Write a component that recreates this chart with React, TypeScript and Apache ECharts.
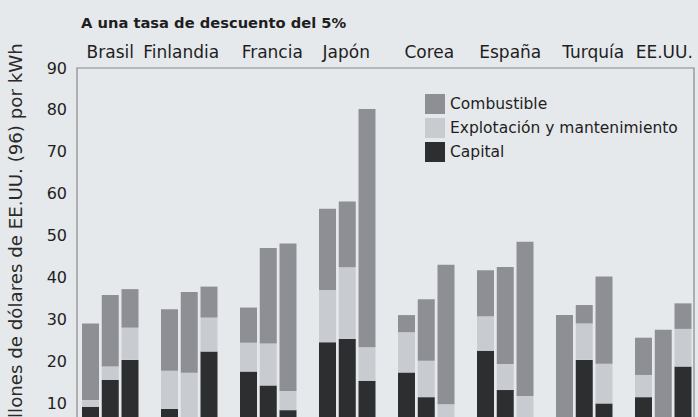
import React, { useEffect, useRef } from "react";
import * as echarts from "echarts";

const title = "A una tasa de descuento del 5%";
const yAxisName = "Millones de dólares de EE.UU. (96) por kWh";
const countries = ["Brasil", "Finlandia", "Francia", "Japón", "Corea", "España", "Turquía", "EE.UU."];
const seriesNames = ["Combustible", "Explotación y mantenimiento", "Capital"];

// three bars per country, values per cost component
const capital = [
  [9.1, 15.5, 20.3],
  [8.6, 5, 22.3],
  [17.5, 14.2, 8.3],
  [24.5, 25.3, 15.3],
  [17.3, 11.4, 5],
  [22.5, 13.1, 5],
  [4, 20.3, 9.9],
  [11.4, 4, 18.7],
];
const operation = [
  [1.6, 3.2, 7.7],
  [9.1, 12.2, 8.1],
  [6.9, 10.0, 4.6],
  [12.5, 17.1, 8.0],
  [9.6, 8.7, 4.7],
  [8.2, 6.2, 6.7],
  [2, 8.7, 9.5],
  [5.3, 2, 9.0],
];
const fuel = [
  [18.3, 17.1, 9.2],
  [14.7, 19.3, 7.4],
  [8.4, 22.8, 35.2],
  [19.4, 15.7, 56.9],
  [4.1, 14.7, 33.3],
  [11.0, 23.2, 36.8],
  [25.0, 4.4, 20.8],
  [8.9, 21.5, 6.1],
];

const FONT = "DejaVu Sans";
const TEXT = "#1e1e1e";
const COLORS = { fuel: "#8e8f94", om: "#c8cbd0", cap: "#2d2e30" };
// horizontal nudge (px) of each country label, as in the original layout
const LABEL_NUDGE = [0, -8, 4, -1, 3, 5, 9, 1];

function toSlots(values: number[][]): (number | null)[] {
  const out: (number | null)[] = [];
  values.forEach((grp, g) => {
    grp.forEach((v) => out.push(v));
    if (g < values.length - 1) out.push(null);
  });
  return out;
}

const slotCategories: string[] = [];
countries.forEach((c, g) => {
  [1, 2, 3].forEach((b) => slotCategories.push(c + " " + b));
  if (g < countries.length - 1) slotCategories.push("gap " + g);
});

const rich: Record<string, any> = {};
LABEL_NUDGE.forEach((n, i) => {
  rich["c" + i] = {
    fontFamily: FONT,
    fontSize: 17,
    color: TEXT,
    padding: n < 0 ? [0, -2 * n, 0, 0] : [0, 0, 0, 2 * n],
  };
});

export default function App() {
  const ref = useRef<HTMLDivElement>(null);
  useEffect(() => {
    if (!ref.current) return;
    const chart = echarts.init(ref.current, undefined, { renderer: "svg" });
    const gridTop = 68;
    const zeroY = 444.9;
    const H = 460;
    const gridBottom = H - zeroY;
    chart.setOption({
      animation: false,
      backgroundColor: "#e6e9ec",
      title: {
        text: title,
        left: 76,
        top: 10,
        textStyle: { fontFamily: FONT, fontSize: 14.7, fontWeight: "bold", color: TEXT },
      },
      legend: {
        data: seriesNames,
        orient: "vertical",
        left: 425,
        top: 94,
        padding: 0,
        itemWidth: 20,
        itemHeight: 20,
        itemGap: 4,
        icon: "rect",
        textStyle: { fontFamily: FONT, fontSize: 15.5, color: TEXT },
      },
      graphic: [
        {
          type: "text",
          x: 15,
          y: 241,
          rotation: Math.PI / 2,
          style: {
            text: yAxisName,
            font: "18.2px " + FONT,
            fill: "#2a2a2a",
            textAlign: "center",
            textVerticalAlign: "middle",
          },
        },
      ],
      grid: [
        {
          left: 77,
          right: 4,
          top: gridTop,
          bottom: gridBottom,
          show: true,
          borderColor: "#86888c",
          borderWidth: 1.2,
          backgroundColor: "transparent",
        },
        {
          left: 80.625,
          width: 31 * 19.75,
          top: gridTop,
          bottom: gridBottom,
        },
      ],
      xAxis: [
        { type: "value", gridIndex: 0, show: false, min: 0, max: 1 },
        {
          type: "category",
          gridIndex: 1,
          position: "top",
          data: slotCategories,
          axisLine: { show: false },
          axisTick: { show: false },
          axisLabel: {
            interval: (index: number) => index % 4 === 1,
            formatter: (_v: string, index: number) => {
              const g = Math.floor(index / 4);
              return "{c" + g + "|" + countries[g] + "}";
            },
            rich,
            fontFamily: FONT,
            fontSize: 17,
            color: TEXT,
            margin: 8,
          },
        },
      ],
      yAxis: [
        {
          type: "value",
          gridIndex: 0,
          min: 0,
          max: 90,
          interval: 10,
          axisLine: { show: false },
          axisTick: { show: false },
          splitLine: { show: false },
          axisLabel: { fontFamily: FONT, fontSize: 16, color: TEXT, margin: 10, showMinLabel: false },
        },
        { type: "value", gridIndex: 1, min: 0, max: 90, interval: 10, show: false, splitLine: { show: false } },
      ],
      series: [
        {
          name: "Capital",
          type: "bar",
          stack: "total",
          xAxisIndex: 1,
          yAxisIndex: 1,
          barWidth: 17,
          data: toSlots(capital),
          itemStyle: { color: COLORS.cap },
        },
        {
          name: "Explotación y mantenimiento",
          type: "bar",
          stack: "total",
          xAxisIndex: 1,
          yAxisIndex: 1,
          barWidth: 17,
          data: toSlots(operation),
          itemStyle: { color: COLORS.om },
        },
        {
          name: "Combustible",
          type: "bar",
          stack: "total",
          xAxisIndex: 1,
          yAxisIndex: 1,
          barWidth: 17,
          data: toSlots(fuel),
          itemStyle: { color: COLORS.fuel },
        },
      ],
    });
    return () => chart.dispose();
  }, []);
  return (
    <div
      ref={ref}
      style={{ position: "fixed", top: 0, left: 0, width: 698, height: 460 }}
    />
  );
}
